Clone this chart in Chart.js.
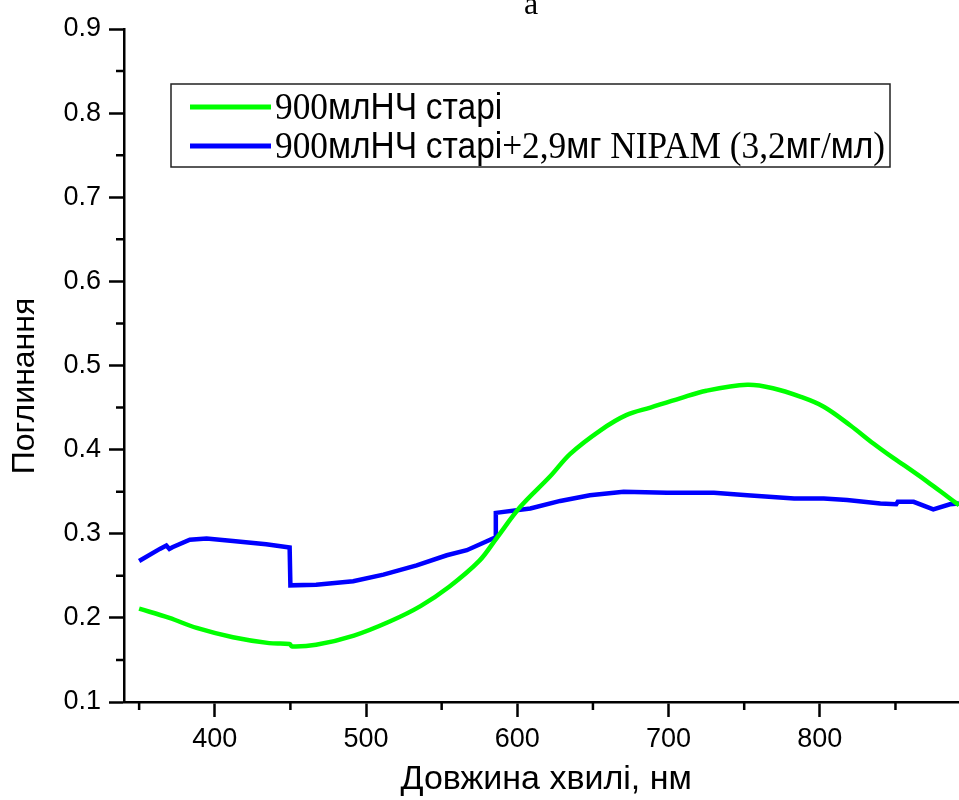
<!DOCTYPE html>
<html><head><meta charset="utf-8">
<script src="https://cdn.jsdelivr.net/npm/chart.js@4/dist/chart.umd.min.js"></script>
<style>html,body{margin:0;padding:0;background:#fff}canvas{display:block}</style>
</head><body>
<canvas id="c" width="959" height="800"></canvas>
<script>
const chartTitle = 'a';
const xAxisTitle = 'Довжина хвилі, нм';
const yAxisTitle = 'Поглинання';
const seriesLabels = ['900млНЧ старі', '900млНЧ старі+2,9мг NIPAM (3,2мг/мл)'];
const seriesColors = ['#00ff00', '#0000ff'];

const greenWavelengths = [350,370,388,412,436,449.5,451,467,492,516,536,555,575,586,602,621.6,635,655,672,688,707.6,725,752,769,787,802.6,820,835.6,849,855.6,871,884.5,892];
const greenAbsorbance  = [0.211,0.200,0.188,0.177,0.170,0.169,0.166,0.168,0.179,0.196,0.214,0.237,0.268,0.294,0.332,0.368,0.395,0.423,0.441,0.450,0.461,0.470,0.477,0.473,0.463,0.451,0.429,0.407,0.3895,0.3815,0.362,0.344,0.334];

const blueWavelengths = [350,363.7,368,370,372,383.5,394.6,412,434,449.5,450,467,491.5,511.5,533.5,553.4,566.6,585.4,585.8,608.6,628.4,648,670.3,699,730,752,783,802.6,818,840,850.5,851.5,862,875,886,892];
const blueAbsorbance  = [0.2676,0.282,0.286,0.282,0.284,0.293,0.2943,0.2915,0.2875,0.2836,0.2387,0.2395,0.2435,0.2514,0.2625,0.2744,0.2804,0.2955,0.3248,0.330,0.339,0.3458,0.3498,0.3486,0.3486,0.3458,0.3419,0.3419,0.340,0.336,0.335,0.338,0.338,0.329,0.335,0.336];

const xMajorTicks = [400,500,600,700,800];
const xMinorTicks = [350,450,550,650,750,850];
const yMajorTicks = [0.1,0.2,0.3,0.4,0.5,0.6,0.7,0.8,0.9];
const yMinorTicks = [0.15,0.25,0.35,0.45,0.55,0.65,0.75,0.85];

const toPoints = (xs, ys) => xs.map((x, i) => ({x: x, y: ys[i]}));

const minorTicksPlugin = {
  id: 'minorTicks',
  afterDraw(chart) {
    const ctx = chart.ctx, xs = chart.scales.x, ys = chart.scales.y;
    ctx.save();
    ctx.strokeStyle = '#000';
    ctx.lineWidth = 2.5;
    ctx.beginPath();
    xMinorTicks.forEach(v => {
      const p = xs.getPixelForValue(v);
      ctx.moveTo(p, xs.top); ctx.lineTo(p, xs.top + 8);
    });
    yMinorTicks.forEach(v => {
      const p = ys.getPixelForValue(v);
      ctx.moveTo(ys.right, p); ctx.lineTo(ys.right - 8, p);
    });
    ctx.stroke();
    ctx.restore();
  }
};

const SANS_LEG = '36px "Liberation Sans", Arial, sans-serif';
const SERIF_LEG = '38px "Liberation Serif", "Times New Roman", serif';
function drawMixed(ctx, text, x, y, sx) {
  const runs = text.match(/[\u0400-\u04FF]+|[^\u0400-\u04FF]+/g);
  ctx.save();
  ctx.translate(x, y);
  ctx.scale(sx, 1);
  let cx = 0;
  runs.forEach(r => {
    ctx.font = /[\u0400-\u04FF]/.test(r) ? SANS_LEG : SERIF_LEG;
    ctx.fillText(r, cx, 0);
    cx += ctx.measureText(r).width;
  });
  ctx.restore();
}
function mixedWidth(ctx, text) {
  const runs = text.match(/[\u0400-\u04FF]+|[^\u0400-\u04FF]+/g);
  let w = 0;
  ctx.save();
  runs.forEach(r => {
    ctx.font = /[\u0400-\u04FF]/.test(r) ? SANS_LEG : SERIF_LEG;
    w += ctx.measureText(r).width;
  });
  ctx.restore();
  return w;
}

const boxLegendPlugin = {
  id: 'boxLegend',
  afterDraw(chart) {
    const ctx = chart.ctx;
    const box = {l: 171, t: 84, r: 890, b: 167};
    ctx.save();
    ctx.fillStyle = '#fff';
    ctx.fillRect(box.l, box.t, box.r - box.l, box.b - box.t);
    ctx.strokeStyle = '#222';
    ctx.lineWidth = 1.5;
    ctx.strokeRect(box.l, box.t, box.r - box.l, box.b - box.t);
    const rows = [107, 146];
    const baselines = [118.5, 157.5];
    const longest = chart.data.datasets.reduce((m, d) => Math.max(m, mixedWidth(ctx, d.label)), 0);
    const sx = 610 / longest;
    chart.data.datasets.forEach((d, i) => {
      ctx.strokeStyle = d.borderColor;
      ctx.lineWidth = 5;
      ctx.beginPath();
      ctx.moveTo(190, rows[i]); ctx.lineTo(271, rows[i]);
      ctx.stroke();
      ctx.fillStyle = '#000';
      ctx.textBaseline = 'alphabetic';
      ctx.textAlign = 'left';
      drawMixed(ctx, d.label, 275, baselines[i], sx);
    });
    ctx.restore();
  }
};

const topLabelPlugin = {
  id: 'topLabel',
  afterDraw(chart) {
    const ctx = chart.ctx;
    ctx.save();
    ctx.fillStyle = '#000';
    ctx.font = '32px "Liberation Serif", "Times New Roman", serif';
    ctx.textAlign = 'center';
    ctx.textBaseline = 'alphabetic';
    ctx.fillText(chartTitle, 531, 14);
    ctx.restore();
  }
};

new Chart(document.getElementById('c'), {
  type: 'line',
  data: {
    datasets: [
      {label: seriesLabels[0], data: toPoints(greenWavelengths, greenAbsorbance), borderColor: seriesColors[0], backgroundColor: seriesColors[0], borderWidth: 4.5, pointRadius: 0, tension: 0.35, fill: false},
      {label: seriesLabels[1], data: toPoints(blueWavelengths, blueAbsorbance), borderColor: seriesColors[1], backgroundColor: seriesColors[1], borderWidth: 4.5, pointRadius: 0, tension: 0, fill: false}
    ]
  },
  options: {
    responsive: false,
    devicePixelRatio: 1,
    animation: false,
    layout: {padding: {top: 29, right: 0, bottom: 0, left: 0}},
    plugins: {legend: {display: false}, title: {display: false}, tooltip: {enabled: false}},
    scales: {
      x: {
        type: 'linear', min: 340, max: 892,
        afterBuildTicks: s => { s.ticks = xMajorTicks.map(v => ({value: v})); },
        afterFit: s => { s.height = 98; },
        grid: {display: true, drawOnChartArea: false, drawTicks: true, tickLength: 15, tickWidth: 2.5, tickColor: '#000'},
        border: {display: true, color: '#000', width: 2.5},
        ticks: {color: '#000', padding: 6, maxRotation: 0, font: {family: '"Liberation Sans", Arial, sans-serif', size: 27}, callback: v => String(v)},
        title: {display: true, text: ' ' + xAxisTitle, color: '#000', font: {family: '"Liberation Sans", Arial, sans-serif', size: 34, lineHeight: 1}, padding: {top: 0, bottom: 3}}
      },
      y: {
        type: 'linear', min: 0.1, max: 0.9,
        afterBuildTicks: s => { s.ticks = yMajorTicks.map(v => ({value: v})); },
        afterFit: s => { s.width = 124; },
        grid: {display: true, drawOnChartArea: false, drawTicks: true, tickLength: 15, tickWidth: 2.5, tickColor: '#000'},
        border: {display: true, color: '#000', width: 2.5},
        ticks: {color: '#000', padding: 8, font: {family: '"Liberation Sans", Arial, sans-serif', size: 27}, callback: v => Number(v).toFixed(1)},
        title: {display: true, text: yAxisTitle + ' \u2003', color: '#000', font: {family: '"Liberation Sans", Arial, sans-serif', size: 32, lineHeight: 1}, padding: {top: 9.5, bottom: 0}}
      }
    }
  },
  plugins: [minorTicksPlugin, boxLegendPlugin, topLabelPlugin]
});
</script>
</body></html>
